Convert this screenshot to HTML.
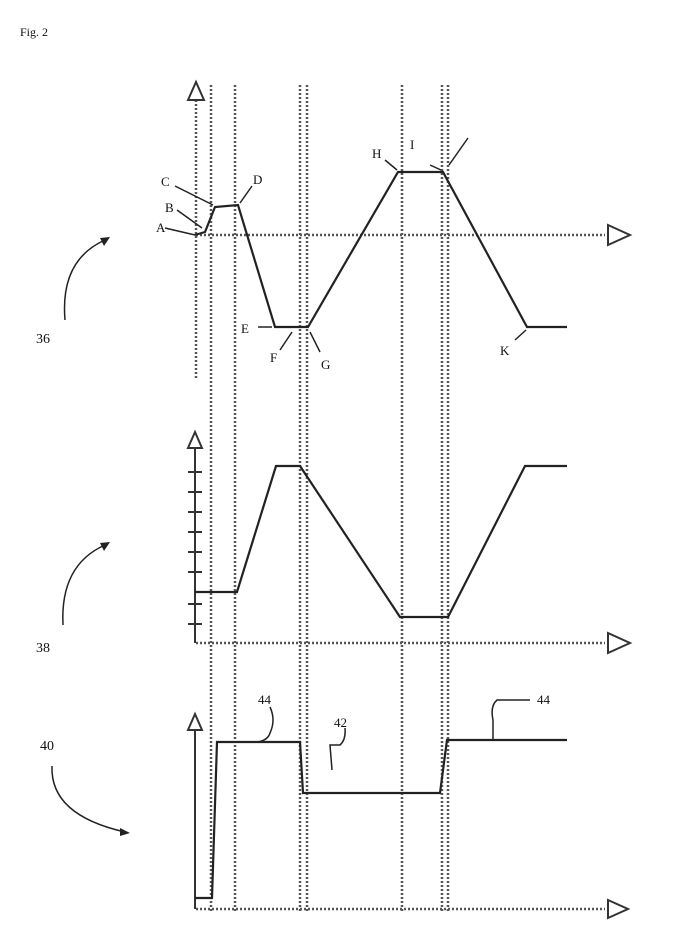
<!DOCTYPE html>
<html><head><style>
body{margin:0;background:#fff;}
svg{display:block;font-family:"Liberation Serif",serif;}
</style></head><body>
<svg width="675" height="939" viewBox="0 0 675 939">
<g fill="none" stroke="#555" stroke-width="2.5" stroke-dasharray="2 2">
<line x1="211" y1="85" x2="211" y2="912"/>
<line x1="235" y1="85" x2="235" y2="912"/>
<line x1="300" y1="85" x2="300" y2="912"/>
<line x1="307" y1="85" x2="307" y2="912"/>
<line x1="402" y1="85" x2="402" y2="912"/>
<line x1="442" y1="85" x2="442" y2="912"/>
<line x1="448" y1="85" x2="448" y2="912"/>
<line x1="196" y1="100" x2="196" y2="380"/>
<line x1="196" y1="235" x2="605" y2="235"/>
<line x1="196" y1="643" x2="605" y2="643"/>
<line x1="196" y1="909" x2="605" y2="909"/>
</g>
<g fill="none" stroke="#333" stroke-width="2">
<line x1="195" y1="445" x2="195" y2="643"/>
<line x1="195" y1="728" x2="195" y2="909"/>
<polygon points="188,100 196,82 204,100" fill="#fff"/>
<polygon points="188,448 195,432 202,448" fill="#fff"/>
<polygon points="188,730 195,714 202,730" fill="#fff"/>
<polygon points="608,225 630,235 608,245" fill="#fff"/>
<polygon points="608,633 630,643 608,653" fill="#fff"/>
<polygon points="608,900 628,909 608,918" fill="#fff"/>
</g>
<g fill="none" stroke="#222" stroke-width="2.2">
<polyline points="195,235 205,232 215,207 238,205 275,327 308,327 398,172 443,172 527,327 567,327"/>
<polyline points="195,592 237,592 276,466 300,466 400,617 448,617 525,466 567,466"/>
<polyline points="195,898 212,898 217,742 300,742 303,793 440,793 447,740 567,740"/>
</g>
<g stroke="#333" stroke-width="2">
<line x1="188" y1="472" x2="202" y2="472"/><line x1="188" y1="492" x2="202" y2="492"/>
<line x1="188" y1="512" x2="202" y2="512"/><line x1="188" y1="532" x2="202" y2="532"/>
<line x1="188" y1="552" x2="202" y2="552"/><line x1="188" y1="572" x2="202" y2="572"/>
<line x1="188" y1="604" x2="202" y2="604"/><line x1="188" y1="624" x2="202" y2="624"/>
</g>
<g fill="none" stroke="#222" stroke-width="1.5">
<line x1="165" y1="228" x2="195" y2="235"/>
<line x1="177" y1="210" x2="202" y2="228"/>
<line x1="175" y1="186" x2="213" y2="205"/>
<line x1="252" y1="186" x2="240" y2="203"/>
<line x1="258" y1="327" x2="272" y2="327"/>
<line x1="280" y1="350" x2="292" y2="332"/>
<line x1="320" y1="352" x2="310" y2="332"/>
<line x1="385" y1="160" x2="397" y2="170"/>
<line x1="430" y1="165" x2="441" y2="170"/>
<line x1="468" y1="138" x2="449" y2="165"/>
<line x1="515" y1="340" x2="526" y2="330"/>
<path d="M270,707 Q276,720 270,733 Q268,740 258,742"/>
<path d="M345,728 Q346,740 340,745 L330,745 L332,770"/>
<path d="M530,700 L497,700 Q490,706 493,720 L493,740"/>
<path d="M105,240 Q60,260 65,320"/>
<path d="M105,545 Q60,565 63,625"/>
<path d="M52,766 Q50,815 125,832"/>
</g>
<g fill="#222">
<polygon points="110,237 100,238 104,246"/>
<polygon points="110,542 100,543 104,551"/>
<polygon points="130,833 120,828 120,836"/>
</g>
<g fill="#111" font-size="13">
<text x="20" y="36" font-size="12">Fig. 2</text>
<text x="156" y="232">A</text><text x="165" y="212">B</text><text x="161" y="186">C</text>
<text x="253" y="184">D</text><text x="241" y="333">E</text><text x="270" y="362">F</text>
<text x="321" y="369">G</text><text x="372" y="158">H</text><text x="410" y="149">I</text>
<text x="500" y="355">K</text>
<text x="36" y="343" font-size="14">36</text>
<text x="36" y="652" font-size="14">38</text>
<text x="40" y="750" font-size="14">40</text>
<text x="258" y="704">44</text><text x="334" y="727">42</text><text x="537" y="704">44</text>
</g>
</svg>
</body></html>
